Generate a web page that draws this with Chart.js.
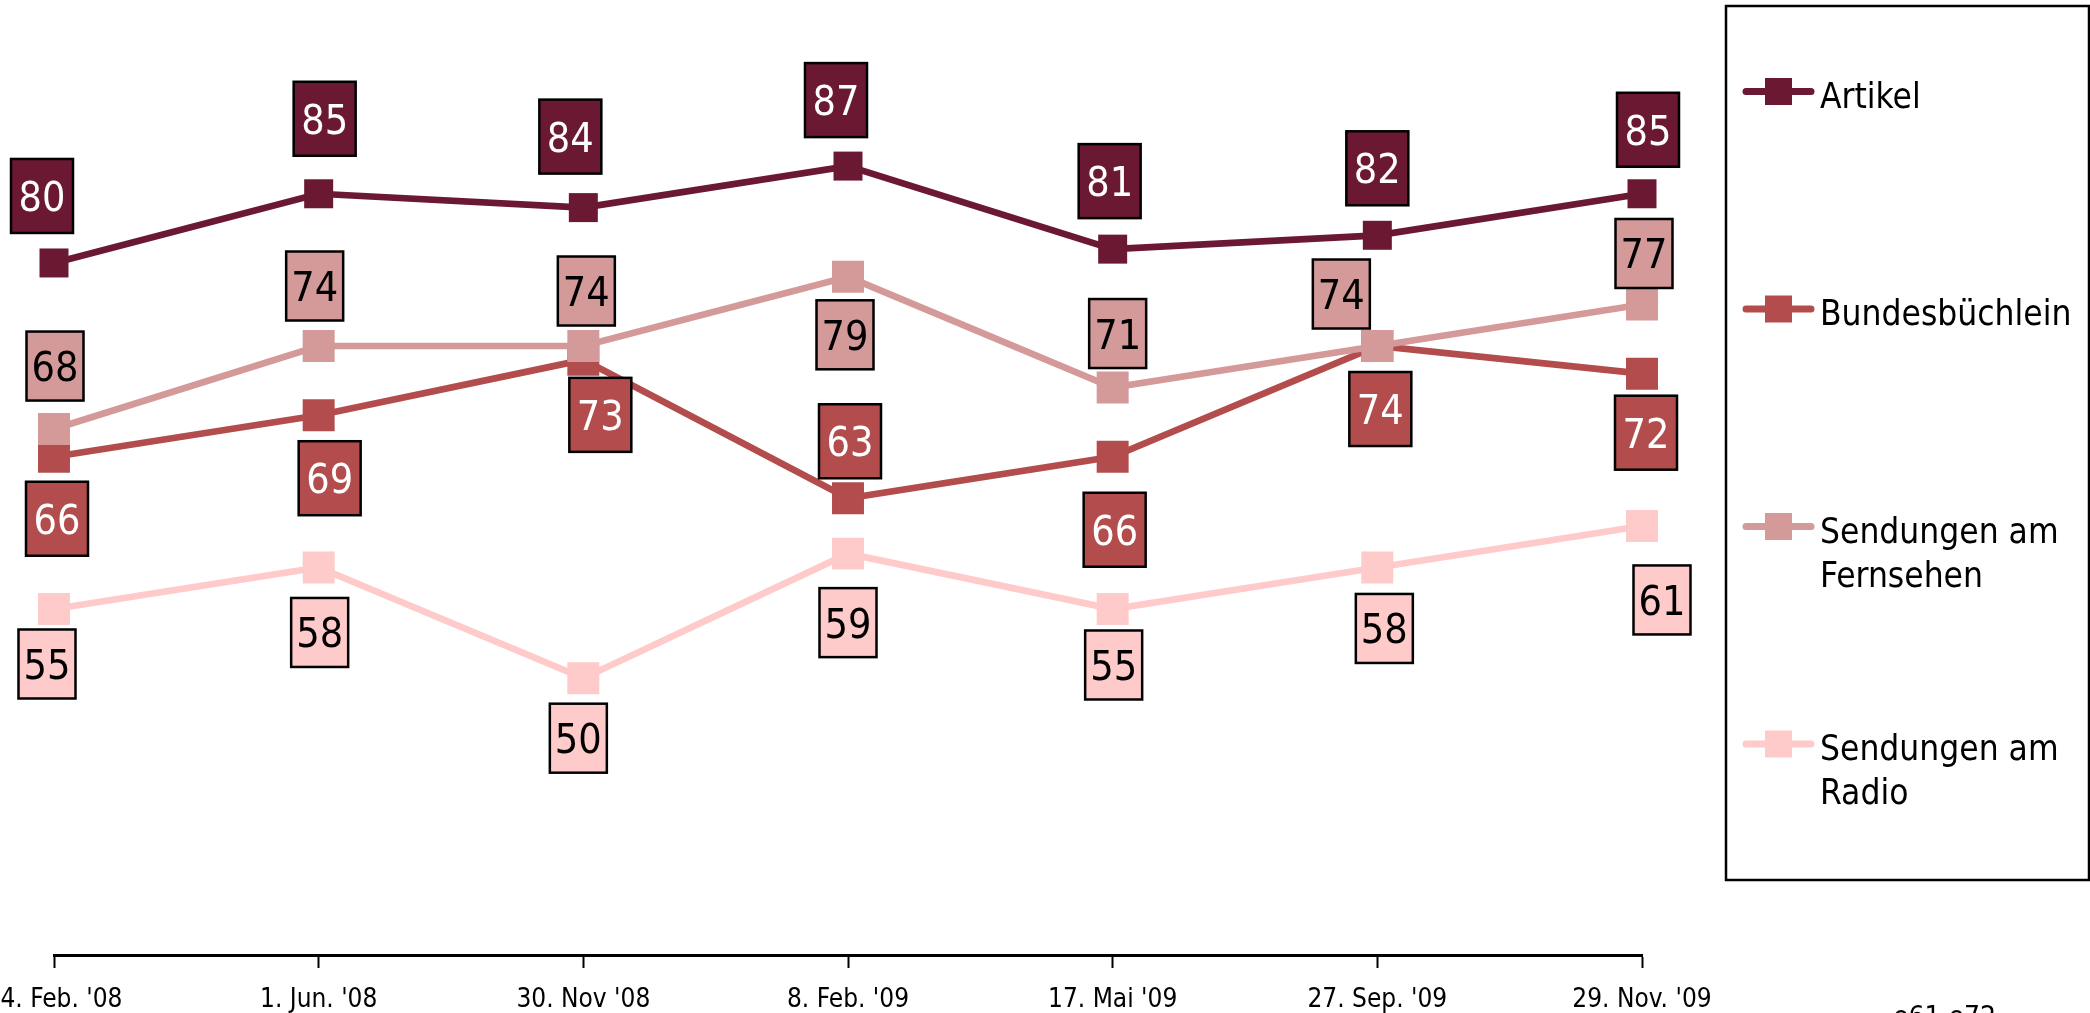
<!DOCTYPE html>
<html>
<head>
<meta charset="utf-8">
<script src="https://cdn.jsdelivr.net/npm/chart.js@4/dist/chart.umd.min.js"></script>
<style>
  html, body { margin: 0; padding: 0; background: #fff; overflow: hidden; }
  #chart { display: block; }
</style>
</head>
<body>
<canvas id="chart" width="2090" height="1013"></canvas>
<script>
const dates = ["14. Feb. '08", "1. Jun. '08", "30. Nov '08", "8. Feb. '09", "17. Mai '09", "27. Sep. '09", "29. Nov. '09"];
const artikel = [80, 85, 84, 87, 81, 82, 85];
const bundesbuechlein = [66, 69, 73, 63, 66, 74, 72];
const fernsehen = [68, 74, 74, 79, 71, 74, 77];
const radio = [55, 58, 50, 59, 55, 58, 61];
const seriesNames = [['Artikel'], ['Bundesbüchlein'], ['Sendungen am', 'Fernsehen'], ['Sendungen am', 'Radio']];
const footNote = 'e61 e72';

const FONT = '"DejaVu Sans Condensed", "DejaVu Sans", sans-serif';
const colors = ['#6B1932', '#B34D4D', '#D49999', '#FFCACA'];
const textColors = ['#fff', '#fff', '#000', '#000'];
const boxSizes = [[62, 74], [62, 74], [57, 69], [57, 69]];

// where each value box sits relative to its point [dx, dy]
const labelOffsets = [
  [[-12, -67], [6, -75], [-13, -71], [-12, -66], [-3, -68], [0, -67], [6, -64]],
  [[3, 62], [11, 63], [17, 55], [2, -57], [2, 73], [3, 63], [4, 59]],
  [[1, -63], [-4, -60], [3, -55], [-3, 58], [5, -54], [-36, -52], [2, -51]],
  [[-7, 55], [1, 65], [-5, 60], [0, 69], [1, 56], [7, 61], [20, 74]]
];

const valueBoxes = {
  id: 'valueBoxes',
  afterDatasetsDraw(chart) {
    const ctx = chart.ctx;
    for (let i = chart.data.datasets.length - 1; i >= 0; i--) {
      const ds = chart.data.datasets[i];
      const meta = chart.getDatasetMeta(i);
      const [w, h] = boxSizes[i];
      meta.data.forEach((pt, j) => {
        const [dx, dy] = labelOffsets[i][j];
        const cx = pt.x + dx, cy = pt.y + dy;
        ctx.save();
        ctx.fillStyle = colors[i];
        ctx.fillRect(cx - w / 2, cy - h / 2, w, h);
        ctx.lineWidth = 2.5;
        ctx.strokeStyle = '#000';
        ctx.strokeRect(cx - w / 2, cy - h / 2, w, h);
        ctx.fillStyle = textColors[i];
        ctx.font = '41px ' + FONT;
        ctx.textAlign = 'center';
        ctx.textBaseline = 'alphabetic';
        ctx.fillText(String(ds.data[j]), cx, cy + 15);
        ctx.restore();
      });
    }
  }
};

const boxLegend = {
  id: 'boxLegend',
  afterDraw(chart) {
    const ctx = chart.ctx;
    ctx.save();
    ctx.lineWidth = 2.5;
    ctx.strokeStyle = '#000';
    ctx.strokeRect(1726, 6, 363, 874);
    seriesNames.forEach((lines, i) => {
      const cy = 91.5 + i * 217.5;
      ctx.strokeStyle = colors[i];
      ctx.lineWidth = 7;
      ctx.lineCap = 'round';
      ctx.beginPath();
      ctx.moveTo(1746, cy);
      ctx.lineTo(1811, cy);
      ctx.stroke();
      ctx.fillStyle = colors[i];
      ctx.fillRect(1765, cy - 13.5, 27, 27);
      ctx.fillStyle = '#000';
      ctx.font = '35px ' + FONT;
      ctx.textAlign = 'left';
      ctx.textBaseline = 'alphabetic';
      lines.forEach((t, k) => ctx.fillText(t, 1820, cy + 16 + k * 44));
    });
    ctx.font = '28px ' + FONT;
    ctx.fillText(footNote, 1893, 1026);
    ctx.restore();
  }
};

new Chart(document.getElementById('chart').getContext('2d'), {
  type: 'line',
  data: {
    labels: dates,
    datasets: [
      { label: 'Artikel', data: artikel, borderColor: colors[0], backgroundColor: colors[0], pointRadius: 20.5, order: 0 },
      { label: 'Bundesbüchlein', data: bundesbuechlein, borderColor: colors[1], backgroundColor: colors[1], pointRadius: 22.6, order: 2 },
      { label: 'Sendungen am Fernsehen', data: fernsehen, borderColor: colors[2], backgroundColor: colors[2], pointRadius: 22.6, order: 1 },
      { label: 'Sendungen am Radio', data: radio, borderColor: colors[3], backgroundColor: colors[3], pointRadius: 22.6, order: 3 }
    ].map(ds => Object.assign(ds, {
      borderWidth: 6.7,
      tension: 0,
      fill: false,
      pointStyle: 'rect',
      pointBorderWidth: 0,
      pointBackgroundColor: ds.borderColor,
      pointHoverRadius: ds.pointRadius,
      clip: false
    }))
  },
  options: {
    responsive: false,
    animation: false,
    events: [],
    layout: { autoPadding: false, padding: { left: 54, right: 448, top: 0, bottom: 0 } },
    plugins: { legend: { display: false }, tooltip: { enabled: false } },
    scales: {
      x: {
        offset: false,
        grid: { display: true, drawOnChartArea: false, drawTicks: true, tickLength: 13, tickWidth: 2, tickColor: '#000' },
        border: { display: true, color: '#000', width: 3 },
        ticks: { color: '#000', font: { family: FONT, size: 26 }, padding: 17, autoSkip: false, maxRotation: 0 },
        afterFit(scale) { scale.paddingLeft = 0; scale.paddingRight = 0; scale.height = 58; }
      },
      y: { display: false, min: 30, max: 99 }
    }
  },
  plugins: [valueBoxes, boxLegend]
});
</script>
</body>
</html>
